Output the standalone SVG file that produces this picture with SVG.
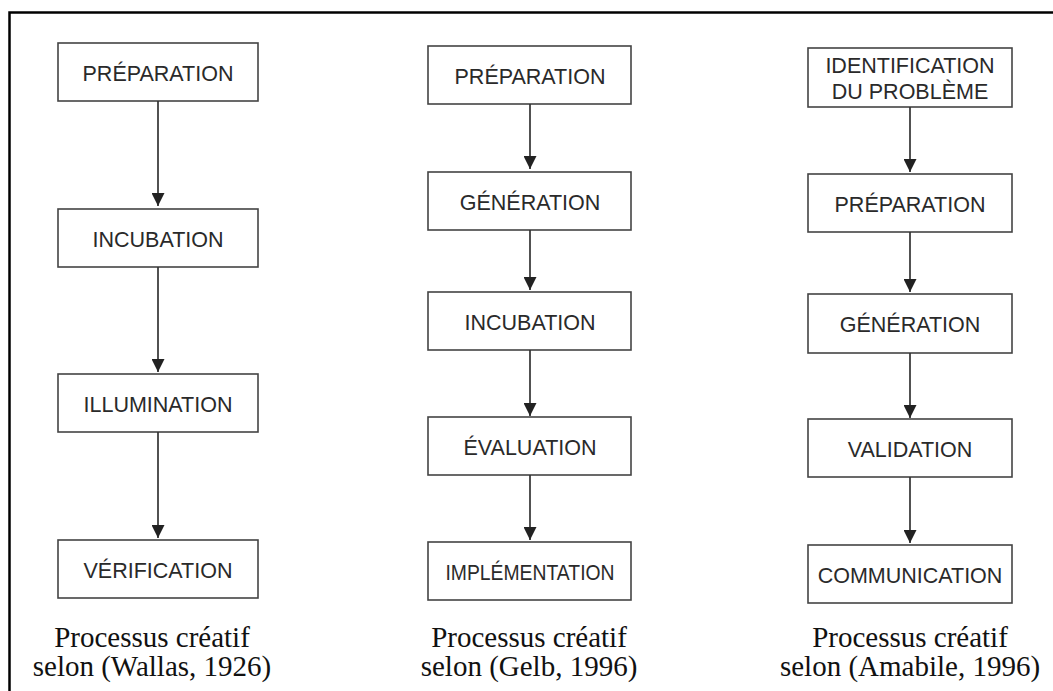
<svg xmlns="http://www.w3.org/2000/svg" width="1053" height="691" viewBox="0 0 1053 691">
<defs>
<marker id="ah" markerUnits="userSpaceOnUse" markerWidth="13" markerHeight="13" refX="13" refY="6.5" orient="auto">
<path d="M0,0 L13,6.5 L0,13 z" fill="#222"/>
</marker>
<style>
.box{fill:#fff;stroke:#444;stroke-width:1.6}
.lbl{font-family:"Liberation Sans",Arial,sans-serif;font-size:21.5px;fill:#2a2a2a;text-anchor:middle}
.cap{font-family:"Liberation Serif","Times New Roman",serif;font-size:29px;fill:#111;text-anchor:middle}
.con{stroke:#333;stroke-width:1.7;fill:none;marker-end:url(#ah)}
</style>
</defs>
<rect width="1053" height="691" fill="#fff"/>
<path d="M9.5,700 V12.5 H1060" fill="none" stroke="#000" stroke-width="2.5"/>

<g id="w-preparation"><rect class="box" x="58" y="43" width="200" height="58"/><text class="lbl" x="158" y="80.5">PRÉPARATION</text></g>
<g id="w-incubation"><rect class="box" x="58" y="209" width="200" height="58"/><text class="lbl" x="158" y="246.5">INCUBATION</text></g>
<g id="w-illumination"><rect class="box" x="58" y="374" width="200" height="58"/><text class="lbl" x="158" y="411.5">ILLUMINATION</text></g>
<g id="w-verification"><rect class="box" x="58" y="540" width="200" height="58"/><text class="lbl" x="158" y="577.5">VÉRIFICATION</text></g>

<g id="g-preparation"><rect class="box" x="428" y="46" width="203" height="58"/><text class="lbl" x="530" y="83.5">PRÉPARATION</text></g>
<g id="g-generation"><rect class="box" x="428" y="172" width="203" height="58"/><text class="lbl" x="530" y="209.5">GÉNÉRATION</text></g>
<g id="g-incubation"><rect class="box" x="428" y="292" width="203" height="58"/><text class="lbl" x="530" y="329.5">INCUBATION</text></g>
<g id="g-evaluation"><rect class="box" x="428" y="417" width="203" height="58"/><text class="lbl" x="530" y="454.5">ÉVALUATION</text></g>
<g id="g-implementation"><rect class="box" x="428" y="542" width="203" height="58"/><text class="lbl" x="530" y="579.5" textLength="169" lengthAdjust="spacingAndGlyphs">IMPLÉMENTATION</text></g>

<g id="a-identification"><rect class="box" x="808" y="48" width="204" height="59"/><text class="lbl" x="910" y="72.5">IDENTIFICATION</text><text class="lbl" x="910" y="98.5">DU PROBLÈME</text></g>
<g id="a-preparation"><rect class="box" x="808" y="174" width="204" height="58"/><text class="lbl" x="910" y="211.5">PRÉPARATION</text></g>
<g id="a-generation"><rect class="box" x="808" y="294" width="204" height="59"/><text class="lbl" x="910" y="332">GÉNÉRATION</text></g>
<g id="a-validation"><rect class="box" x="808" y="419" width="204" height="58"/><text class="lbl" x="910" y="456.5">VALIDATION</text></g>
<g id="a-communication"><rect class="box" x="808" y="545" width="204" height="58"/><text class="lbl" x="910" y="582.5">COMMUNICATION</text></g>

<g id="connectors">
<line class="con" x1="158" y1="101" x2="158" y2="206"/>
<line class="con" x1="158" y1="267" x2="158" y2="372"/>
<line class="con" x1="158" y1="432" x2="158" y2="538"/>
<line class="con" x1="530" y1="104" x2="530" y2="169"/>
<line class="con" x1="530" y1="230" x2="530" y2="290"/>
<line class="con" x1="530" y1="350" x2="530" y2="416"/>
<line class="con" x1="530" y1="475" x2="530" y2="540"/>
<line class="con" x1="910" y1="107" x2="910" y2="172"/>
<line class="con" x1="910" y1="232" x2="910" y2="292"/>
<line class="con" x1="910" y1="353" x2="910" y2="418"/>
<line class="con" x1="910" y1="477" x2="910" y2="543"/>
</g>

<g id="captions">
<text class="cap" x="152" y="647">Processus créatif</text>
<text class="cap" x="152" y="676">selon (Wallas, 1926)</text>
<text class="cap" x="529" y="647">Processus créatif</text>
<text class="cap" x="529" y="676">selon (Gelb, 1996)</text>
<text class="cap" x="910" y="647">Processus créatif</text>
<text class="cap" x="910" y="676">selon (Amabile, 1996)</text>
</g>
</svg>
